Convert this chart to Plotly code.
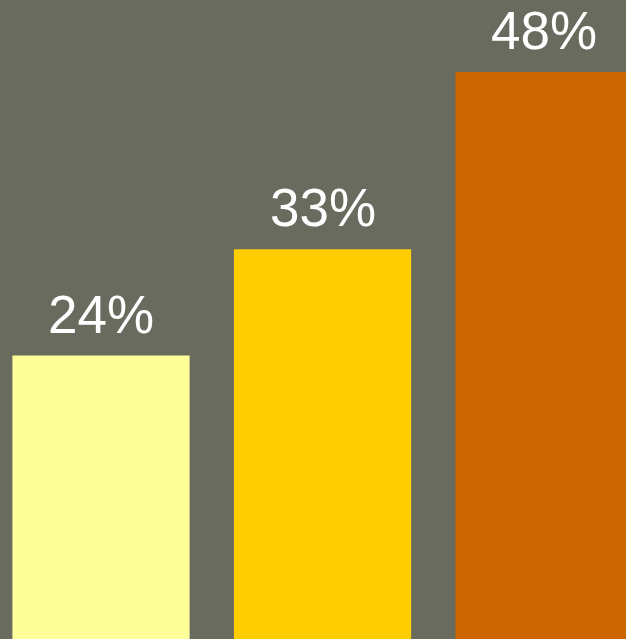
import plotly.graph_objects as go

categories = ["A", "B", "C"]
values = [24, 33, 48]
labels = ["24%", "33%", "48%"]
colors = ["#FFFF99", "#FFCC00", "#CC6600"]

fig = go.Figure(
    go.Bar(
        x=list(range(len(categories))),
        y=values,
        marker=dict(color=colors, line=dict(width=0)),
        width=0.8,
        hoverinfo="skip",
    )
)

for i, (v, t) in enumerate(zip(values, labels)):
    fig.add_annotation(
        x=i, y=v, text=t, showarrow=False,
        xanchor="center", yanchor="bottom", yshift=10,
        font=dict(family="Liberation Sans, Arial, sans-serif", size=53, color="white"),
    )

fig.update_layout(
    width=626, height=639,
    margin=dict(l=0, r=0, t=0, b=0),
    paper_bgcolor="#696B5F",
    plot_bgcolor="#696B5F",
    showlegend=False,
    xaxis=dict(range=[-0.456, 2.370], visible=False, fixedrange=True),
    yaxis=dict(range=[0, 54.1], visible=False, fixedrange=True),
)

fig.write_html("out.html")
